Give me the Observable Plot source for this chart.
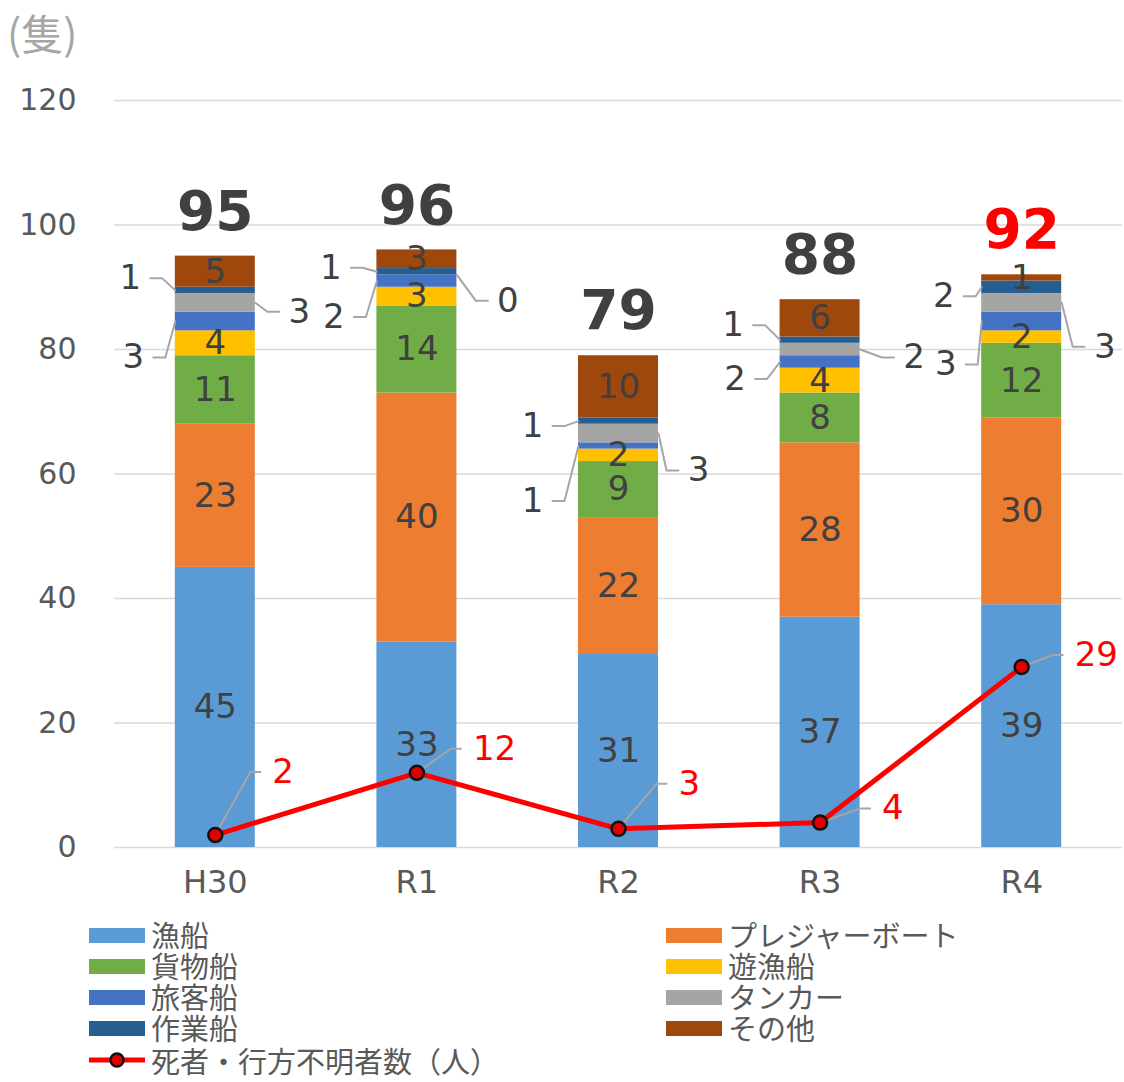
<!DOCTYPE html>
<html><head><meta charset="utf-8">
<script src="https://cdn.jsdelivr.net/npm/d3@7"></script>
<script src="https://cdn.jsdelivr.net/npm/@observablehq/plot@0.6"></script>
<style>
body{margin:0;background:#fff;font-family:"Noto Sans CJK JP","Noto Sans",sans-serif;}
#wrap{position:relative;width:1124px;height:1082px;overflow:hidden;}
#unit{position:absolute;left:7px;top:10px;font-size:42px;line-height:44px;color:#A6A6A6;}
#chart{position:absolute;left:0;top:0;}
.leg{position:absolute;font-size:29px;line-height:30px;color:#595959;white-space:nowrap;}
.sw{position:absolute;width:56px;height:15px;}
</style></head>
<body><div id="wrap"><div id="chart"></div><div id="unit">(隻)</div><div id="legend"></div></div>
<script>
const years = ["H30","R1","R2","R3","R4"];
const types = ["漁船","プレジャーボート","貨物船","遊漁船","旅客船","タンカー","作業船","その他"];
const gyosen   = [45,33,31,37,39];
const pleasure = [23,40,22,28,30];
const kamotsu  = [11,14,9,8,12];
const yugyo    = [4,3,2,4,2];
const ryokaku  = [3,2,1,2,3];
const tanker   = [3,0,3,2,3];
const sagyo    = [1,1,1,1,2];
const sonota   = [5,3,10,6,1];
const casualties = [2,12,3,4,29];
const lineName = "死者・行方不明者数（人）";
const colors = ["#5B9BD5","#ED7D31","#70AD47","#FFC000","#4472C4","#A5A5A5","#255E91","#9E480E"];

// layout of callouts (label offset in px from bar centre / segment middle)
const segCallouts = [
 [0,"作業船",-85,-12],[0,"タンカー",84,9],[0,"旅客船",-82,36],
 [1,"作業船",-86,-4],[1,"旅客船",-83,36],[1,"タンカー",91,26],
 [2,"作業船",-86,5],[2,"タンカー",80,37],[2,"旅客船",-86,55],
 [3,"作業船",-87,-15],[3,"タンカー",94,8],[3,"旅客船",-85,17],
 [4,"作業船",-78,9],[4,"タンカー",83,44],[4,"旅客船",-76,43]
];
const lineCallouts = [[0,57,-63],[1,56,-24],[2,60,-45],[3,62,-14],[4,53,-12]];

const series = [gyosen,pleasure,kamotsu,yugyo,ryokaku,tanker,sagyo,sonota];
const W=1124,H=905,ML=114,MR=2,MT=100,MB=58;
const kx=(W-ML-MR)/5, ky=(H-MT-MB)/120;
const hw=40/kx;

const segments=[];
years.forEach((yr,i)=>{let c=0;series.forEach((vals,k)=>{const v=vals[i];segments.push({i,yr,type:types[k],v,y1:c,y2:c+v,mid:c+v/2});c+=v;});});
const totals=years.map((yr,i)=>({i,yr,total:d3.sum(series,s=>s[i])}));
const key=(i,t)=>i+"|"+t;
const segMap=new Map(segments.map(d=>[key(d.i,d.type),d]));
const calloutKeys=new Set(segCallouts.map(c=>key(c[0],c[1])));
const inside=segments.filter(d=>d.v>0&&!calloutKeys.has(key(d.i,d.type)));

const outLabels=[],leaders=[];
segCallouts.forEach(([i,t,dx,dy],n)=>{
  const s=segMap.get(key(i,t)); const sx=dx<0?-1:1;
  const lx=i+dx/kx, ly=s.mid-dy/ky;
  outLabels.push({x:lx,y:ly,text:String(s.v)});
  leaders.push({id:"s"+n,x:i+sx*hw,y:s.mid},{id:"s"+n,x:lx-sx*32/kx,y:ly},{id:"s"+n,x:lx-sx*20/kx,y:ly});
});
const pts=casualties.map((v,i)=>({i,v}));
const redLabels=[];
lineCallouts.forEach(([i,dx,dy])=>{
  const v=casualties[i]; const lx=i+dx/kx, ly=v-dy/ky;
  redLabels.push({x:lx,y:ly,text:String(v)});
  leaders.push({id:"l"+i,x:i,y:v},{id:"l"+i,x:lx-22/kx,y:ly},{id:"l"+i,x:lx-12/kx,y:ly});
});

const chart=Plot.plot({
  width:W,height:H,marginLeft:ML,marginRight:MR,marginTop:MT,marginBottom:MB,
  style:{fontFamily:'"DejaVu Sans",sans-serif',background:"transparent"},
  x:{domain:[-0.5,4.5],axis:null},
  y:{domain:[0,120],axis:null},
  color:{domain:types,range:colors},
  marks:[
    Plot.gridY({ticks:d3.range(0,121,20),stroke:"#D9D9D9",strokeOpacity:1,strokeWidth:1.5}),
    Plot.axisY({ticks:d3.range(0,121,20),tickSize:0,tickPadding:38,fontSize:30,fill:"#595959"}),
    Plot.axisX({ticks:[0,1,2,3,4],tickFormat:i=>years[i],tickSize:0,tickPadding:23,fontSize:32,fill:"#595959"}),
    Plot.rect(segments.filter(d=>d.v>0),{x1:d=>d.i-hw,x2:d=>d.i+hw,y1:"y1",y2:"y2",fill:"type"}),
    Plot.text(inside,{x:"i",y:"mid",text:d=>String(d.v),fontSize:34,fill:"#404040"}),
    Plot.line(leaders,{x:"x",y:"y",z:"id",stroke:"#A6A6A6",strokeWidth:2,curve:"linear"}),
    Plot.text(outLabels,{x:"x",y:"y",text:"text",fontSize:34,fill:"#404040"}),
    Plot.text(totals,{x:"i",y:"total",text:d=>String(d.total),dy:-44,fontSize:55,fontWeight:"bold",fill:d=>d.i===4?"#FF0000":"#404040"}),
    Plot.line(pts,{x:"i",y:"v",stroke:"#FF0000",strokeWidth:5}),
    Plot.dot(pts,{x:"i",y:"v",r:7,fill:"#E00000",stroke:"#111",strokeWidth:2.5}),
    Plot.text(redLabels,{x:"x",y:"y",text:"text",textAnchor:"start",fontSize:34,fill:"#FF0000"})
  ]
});
document.getElementById("chart").appendChild(chart);

// legend
const leg=document.getElementById("legend");
const leftCol=[0,2,4,6], rightCol=[1,3,5,7];
const rowY=[935,966,997,1028];
function addItem(k,x,y){
  const sw=document.createElement("div");sw.className="sw";sw.style.left=x+"px";sw.style.top=(y-7)+"px";sw.style.background=colors[k];leg.appendChild(sw);
  const t=document.createElement("div");t.className="leg";t.style.left=(x+62)+"px";t.style.top=(y-16)+"px";t.textContent=types[k];leg.appendChild(t);
}
leftCol.forEach((k,r)=>addItem(k,89,rowY[r]));
rightCol.forEach((k,r)=>addItem(k,666,rowY[r]));
const ln=document.createElement("div");
ln.innerHTML='<svg width="60" height="20" style="position:absolute;left:87px;top:1050px"><line x1="2" y1="10" x2="58" y2="10" stroke="#FF0000" stroke-width="5"/><circle cx="30" cy="10" r="6.5" fill="#E00000" stroke="#111" stroke-width="2.5"/></svg>';
leg.appendChild(ln);
const lt=document.createElement("div");lt.className="leg";lt.style.left="151px";lt.style.top="1045px";lt.textContent=lineName;leg.appendChild(lt);
</script></body></html>
